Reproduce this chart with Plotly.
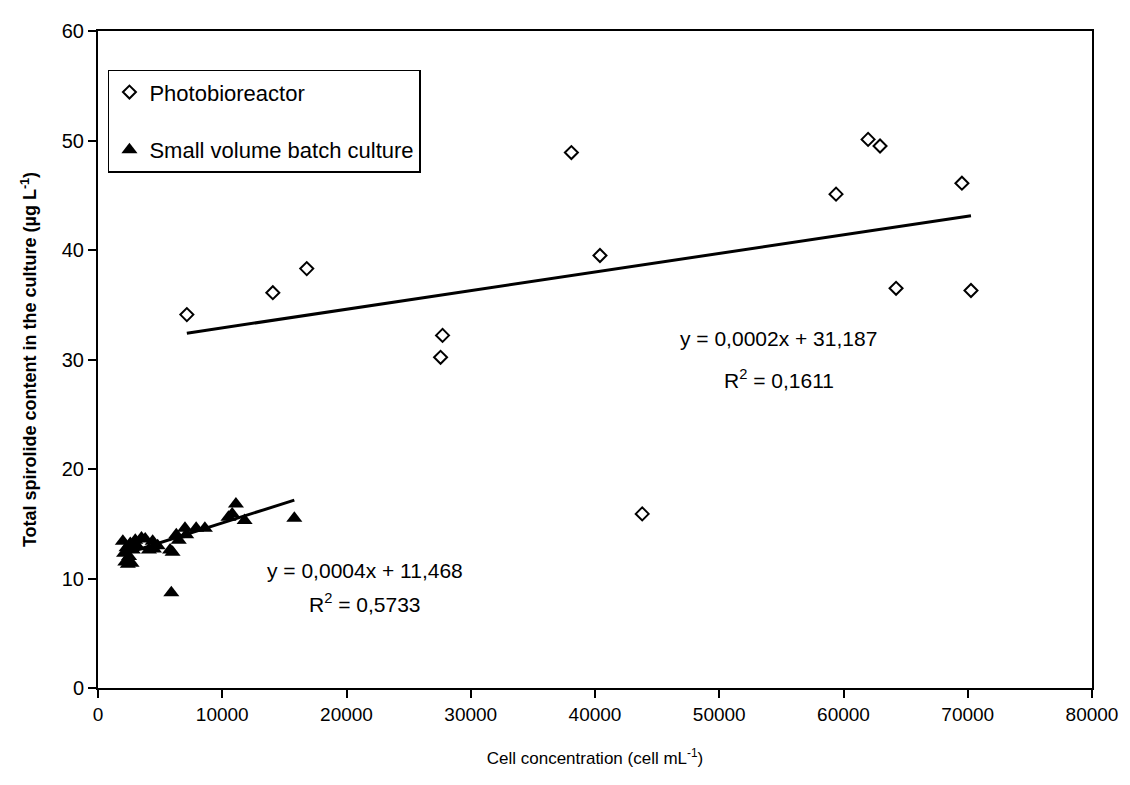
import plotly.graph_objects as go

# Photobioreactor data (open diamonds)
pbr_x = [7150, 14070, 16800, 27570, 27730, 38100, 40400, 43800, 59400, 61980, 62940, 64230, 69530, 70260]
pbr_y = [34.1, 36.1, 38.3, 30.2, 32.2, 48.9, 39.5, 15.9, 45.1, 50.1, 49.5, 36.5, 46.1, 36.3]

# Small volume batch culture data (filled triangles)
svb_x = [2000, 2100, 2200, 2300, 2400, 2500, 2600, 2700, 2800, 3000, 3200, 3500, 3800, 4100,
         4400, 4500, 4800, 5800, 6000, 5900, 6300, 6500, 7000, 7100, 7900, 8600, 10500, 10800,
         11100, 11800, 15800]
svb_y = [13.4, 12.3, 11.5, 12.8, 11.3, 12.0, 13.2, 11.4, 12.6, 13.5, 12.9, 13.7, 13.6, 12.6,
         13.4, 12.7, 13.0, 12.6, 12.4, 8.7, 14.0, 13.5, 14.6, 14.0, 14.6, 14.6, 15.6, 15.9,
         16.8, 15.3, 15.5]

# Trendline coefficients (as drawn)
pbr_slope, pbr_intercept = 0.00017, 31.187
svb_slope, svb_intercept = 0.00036, 11.468

pbr_eq = ["y = 0,0002x + 31,187", "R<sup>2</sup> = 0,1611"]
svb_eq = ["y = 0,0004x + 11,468", "R<sup>2</sup> = 0,5733"]

FONT = "Arial, Liberation Sans, sans-serif"

fig = go.Figure()

fig.add_trace(go.Scatter(
    x=pbr_x, y=pbr_y, mode="markers", name="Photobioreactor", legendgroup="a",
    marker=dict(symbol="diamond-open", size=10, color="black", line=dict(width=2, color="black")),
))
fig.add_trace(go.Scatter(
    x=svb_x, y=svb_y, mode="markers", name="Small volume batch culture", legendgroup="b",
    marker=dict(symbol="triangle-up", size=14, color="black", line=dict(width=0)),
))

px0, px1 = min(pbr_x), max(pbr_x)
fig.add_trace(go.Scatter(
    x=[px0, px1], y=[pbr_slope * px0 + pbr_intercept, pbr_slope * px1 + pbr_intercept],
    mode="lines", line=dict(color="black", width=3), showlegend=False, hoverinfo="skip",
))
sx0, sx1 = min(svb_x), max(svb_x)
fig.add_trace(go.Scatter(
    x=[sx0, sx1], y=[svb_slope * sx0 + svb_intercept, svb_slope * sx1 + svb_intercept],
    mode="lines", line=dict(color="black", width=3), showlegend=False, hoverinfo="skip",
))

annots = [
    (54800, 31.95, pbr_eq[0]), (54800, 28.25, pbr_eq[1]),
    (21500, 10.7, svb_eq[0]), (21500, 7.8, svb_eq[1]),
]
for ax_, ay_, t in annots:
    fig.add_annotation(x=ax_, y=ay_, text=t, showarrow=False, xref="x", yref="y",
                       font=dict(family=FONT, size=21, color="black"))

fig.update_layout(
    width=1122, height=777,
    margin=dict(l=90, r=37, t=16, b=97),
    paper_bgcolor="white", plot_bgcolor="white",
    font=dict(family=FONT, color="black"),
    legend=dict(
        x=0.01, y=0.941, xanchor="left", yanchor="top",
        bordercolor="black", borderwidth=1.5, bgcolor="white",
        font=dict(family=FONT, size=22, color="black"),
        tracegroupgap=26, itemwidth=30,
    ),
)

fig.update_xaxes(
    range=[0, 80000], dtick=10000, tick0=0, tickformat="d", showgrid=False, zeroline=False,
    showline=True, linecolor="black", linewidth=2, mirror=True,
    ticks="outside", ticklen=8, tickwidth=1.5, tickcolor="black",
    tickfont=dict(family=FONT, size=19, color="black"),
    title=dict(text="Cell concentration (cell mL<sup>-1</sup>)",
               font=dict(family=FONT, size=17, color="black"), standoff=28),
)
fig.update_yaxes(
    range=[0, 60], dtick=10, tick0=0, showgrid=False, zeroline=False,
    showline=True, linecolor="black", linewidth=2, mirror=True,
    ticks="outside", ticklen=8, tickwidth=1.5, tickcolor="black",
    tickfont=dict(family=FONT, size=20, color="black"),
    title=dict(text="<b>Total spirolide content in the culture (µg L<sup>-1</sup>)</b>",
               font=dict(family=FONT, size=18, color="black"), standoff=20),
)

fig.write_html("out.html")
